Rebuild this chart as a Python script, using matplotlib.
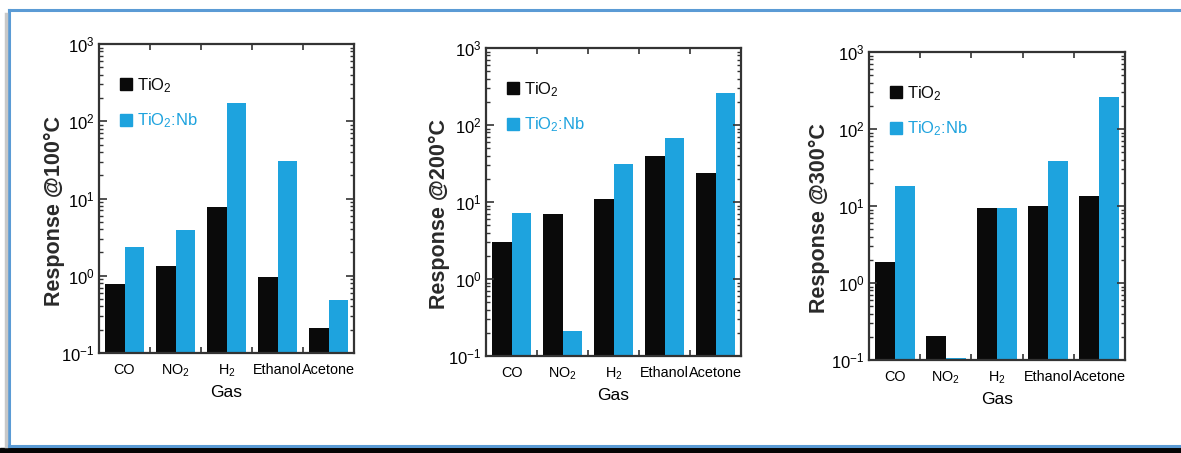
import matplotlib
matplotlib.use("Agg")
import matplotlib.pyplot as plt
import numpy as np
from matplotlib.lines import Line2D
from matplotlib.patches import Rectangle

plt.rcParams['font.family'] = ['Liberation Sans', 'DejaVu Sans']
plt.rcParams['mathtext.fontset'] = 'custom'
plt.rcParams['mathtext.rm'] = 'Liberation Sans'
plt.rcParams['mathtext.it'] = 'Liberation Sans'
plt.rcParams['mathtext.bf'] = 'Liberation Sans:bold'

gases = ['CO', 'NO$_2$', 'H$_2$', 'Ethanol', 'Acetone']
temps = ['100', '200', '300']
tio2 = {
    '100': [0.78, 1.35, 7.7, 0.95, 0.21],
    '200': [3.0, 6.9, 11.0, 40.0, 23.5],
    '300': [1.9, 0.205, 9.3, 10.0, 13.5],
}
tio2_nb = {
    '100': [2.35, 3.9, 170.0, 31.0, 0.48],
    '200': [7.1, 0.21, 31.0, 67.0, 258.0],
    '300': [18.4, 0.105, 9.3, 38.0, 263.0],
}
series_names = ['TiO$_2$', 'TiO$_2$:Nb']

W, H = 1181, 453
BLACK = '#0a0a0a'
BLUE = '#1ea3de'
fig = plt.figure(figsize=(W / 100, H / 100), dpi=100)
fig.patch.set_facecolor('white')

# axes boxes in pixels: left, right, top, bottom
boxes = [(99, 354, 44, 353), (486, 741, 48, 356), (869, 1125, 52, 360)]
ylab_x = [-0.133, -0.141, -0.152]

for i, t in enumerate(temps):
    l, r, tp, b = boxes[i]
    ax = fig.add_axes([l / W, (H - b) / H, (r - l) / W, (b - tp) / H])
    x = np.arange(len(gases))
    w = 0.39
    ax.bar(x - w / 2, tio2[t], w, color=BLACK, linewidth=0)
    ax.bar(x + w / 2, tio2_nb[t], w, color=BLUE, linewidth=0)
    ax.set_yscale('log')
    ax.set_ylim(0.1, 1000)
    ax.set_xlim(-0.5, 4.5)
    ax.set_xticks(x, gases, fontsize=10.4)
    ax.tick_params(axis='x', which='major', length=0, pad=7)
    ax.set_xticks([0.5, 1.5, 2.5, 3.5], minor=True)
    ax.tick_params(axis='x', which='minor', direction='in', top=True, bottom=True, length=4, width=1.2, color='#333333')
    ax.tick_params(axis='y', which='major', direction='in', left=True, right=True, length=6, width=1.2, labelsize=12, pad=3, color='#333333')
    ax.tick_params(axis='y', which='minor', direction='in', left=True, right=True, length=3, width=1.0, color='#333333')
    for s in ax.spines.values():
        s.set_linewidth(1.6)
        s.set_color('#333333')
    ax.set_ylabel('Response @' + t + '°C', fontsize=15.5, fontweight='bold', color='#2a2a2a')
    ax.yaxis.set_label_coords(ylab_x[i], 0.46)
    ax.set_xlabel('Gas', fontsize=12.5, labelpad=4)
    handles = [Line2D([], [], marker='s', color=BLACK, linestyle='none', markersize=9),
               Line2D([], [], marker='s', color=BLUE, linestyle='none', markersize=9)]
    ax.legend(handles, series_names, loc='upper left', frameon=False, fontsize=12,
              labelcolor=[BLACK, BLUE], handlelength=0.6, handletextpad=0.4,
              labelspacing=1.0, borderaxespad=0.6, bbox_to_anchor=(0.02, 0.95))

# outer frame decoration
frame_blue = '#5b9bd5'
fig.add_artist(Line2D([9 / W, 1], [1 - 10 / H, 1 - 10 / H], color=frame_blue, lw=2.2, transform=fig.transFigure))
fig.add_artist(Line2D([9 / W, 9 / W], [1 - 10 / H, 1 - 446 / H], color=frame_blue, lw=2.2, transform=fig.transFigure))
fig.add_artist(Line2D([6 / W, 6 / W], [1 - 14 / H, 1 - 446 / H], color='#c8c8c8', lw=2.5, transform=fig.transFigure))
fig.add_artist(Line2D([9 / W, 1], [1 - 446 / H, 1 - 446 / H], color=frame_blue, lw=2.2, transform=fig.transFigure))
fig.add_artist(Rectangle((0, 0), 1, 5 / H, color='#050505', transform=fig.transFigure))

fig.savefig('out.png', dpi=100)
